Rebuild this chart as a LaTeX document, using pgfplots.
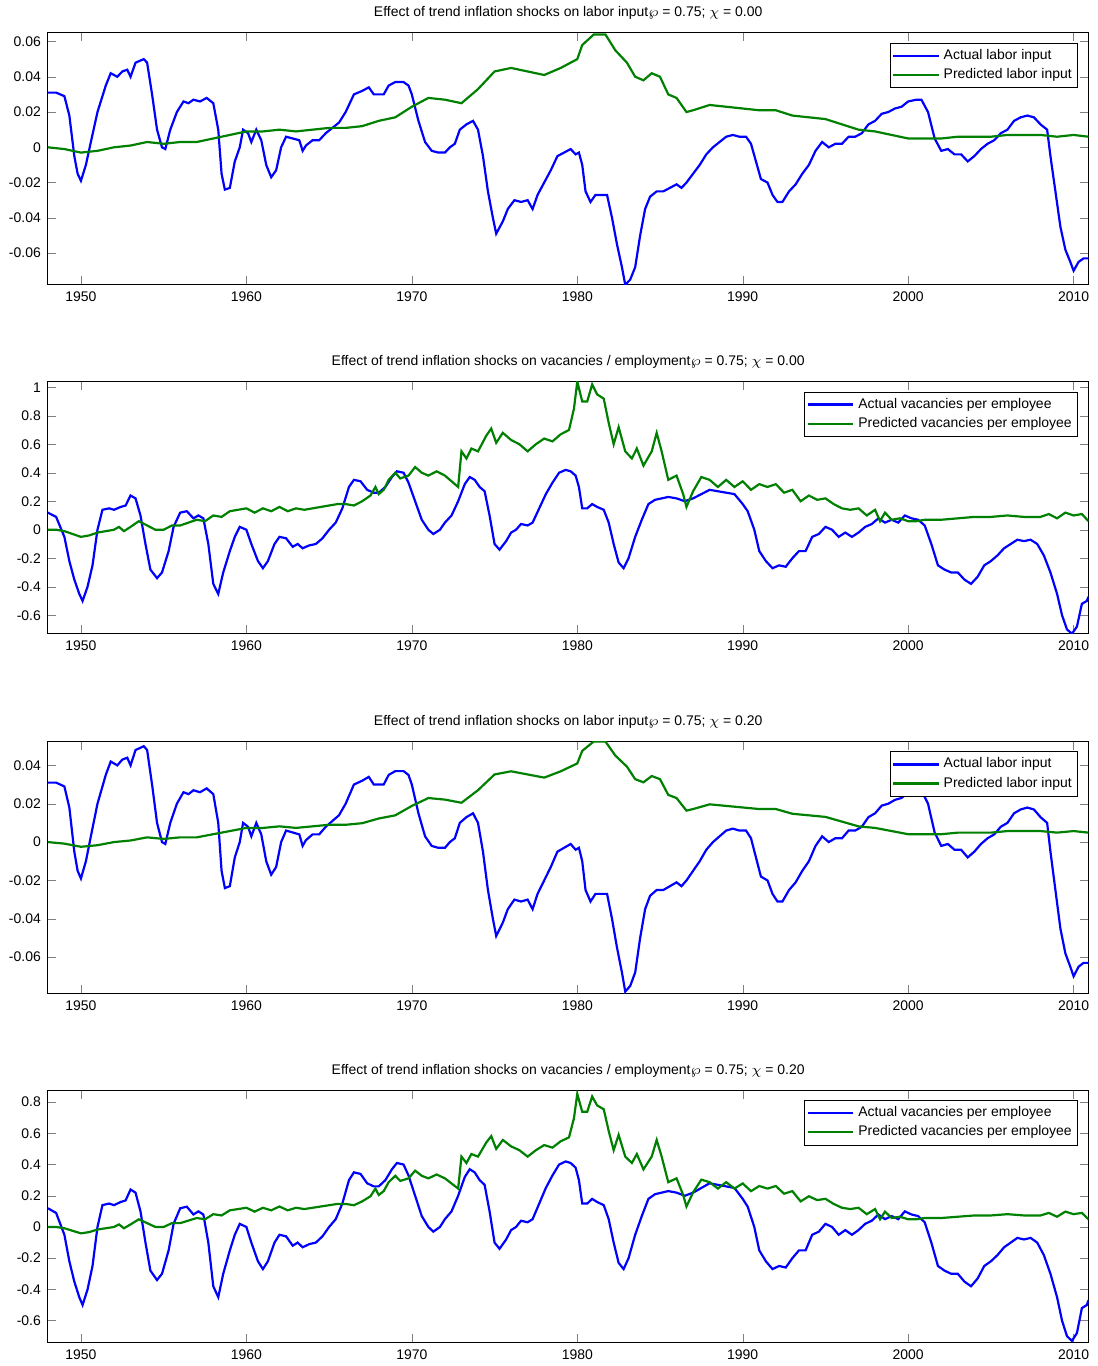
\documentclass[border=0pt]{standalone}
\usepackage{pgfplots}
\usepackage{pgfplotstable}
\usepackage{fontspec}
\setmainfont{Liberation Sans}
\pgfplotsset{compat=1.18}
\definecolor{mgreen}{rgb}{0,0.5,0}
\pgfplotstableread{
x y
1948.0 0.031
1948.5 0.031
1949.0 0.029
1949.3 0.018
1949.6 -0.005
1949.8 -0.015
1950.0 -0.019
1950.3 -0.01
1950.6 0.003
1951.0 0.02
1951.5 0.035
1951.8 0.042
1952.2 0.04
1952.5 0.043
1952.8 0.044
1953.0 0.04
1953.3 0.048
1953.8 0.05
1954.0 0.048
1954.3 0.03
1954.6 0.01
1954.9 0.0
1955.1 -0.001
1955.4 0.01
1955.8 0.02
1956.2 0.026
1956.5 0.025
1956.8 0.027
1957.2 0.026
1957.6 0.028
1958.0 0.025
1958.3 0.01
1958.5 -0.015
1958.7 -0.024
1959.0 -0.023
1959.3 -0.008
1959.6 0.0
1959.8 0.01
1960.1 0.008
1960.3 0.003
1960.6 0.01
1960.9 0.004
1961.2 -0.01
1961.5 -0.017
1961.8 -0.013
1962.1 0.0
1962.4 0.006
1962.8 0.005
1963.2 0.004
1963.4 -0.002
1963.6 0.001
1964.0 0.004
1964.4 0.004
1964.8 0.008
1965.2 0.011
1965.6 0.014
1966.0 0.02
1966.5 0.03
1967.0 0.032
1967.4 0.034
1967.7 0.03
1968.0 0.03
1968.3 0.03
1968.6 0.035
1969.0 0.037
1969.5 0.037
1969.8 0.035
1970.0 0.03
1970.4 0.015
1970.8 0.003
1971.2 -0.002
1971.6 -0.003
1972.0 -0.003
1972.3 0.0
1972.6 0.002
1972.9 0.01
1973.3 0.013
1973.7 0.015
1974.0 0.01
1974.3 -0.005
1974.6 -0.025
1974.9 -0.04
1975.1 -0.049
1975.5 -0.042
1975.8 -0.035
1976.2 -0.03
1976.6 -0.031
1977.0 -0.03
1977.3 -0.035
1977.6 -0.027
1978.0 -0.02
1978.4 -0.013
1978.8 -0.005
1979.2 -0.003
1979.6 -0.001
1979.9 -0.004
1980.1 -0.003
1980.3 -0.01
1980.5 -0.025
1980.8 -0.031
1981.1 -0.027
1981.5 -0.027
1981.8 -0.027
1982.1 -0.04
1982.4 -0.055
1982.7 -0.068
1982.9 -0.078
1983.2 -0.075
1983.5 -0.068
1983.8 -0.05
1984.1 -0.035
1984.4 -0.028
1984.8 -0.025
1985.2 -0.025
1985.6 -0.023
1986.0 -0.021
1986.3 -0.023
1986.6 -0.02
1987.0 -0.015
1987.4 -0.01
1987.8 -0.004
1988.2 0.0
1988.6 0.003
1989.0 0.006
1989.4 0.007
1989.8 0.006
1990.2 0.006
1990.5 0.002
1990.8 -0.008
1991.1 -0.018
1991.5 -0.02
1991.8 -0.027
1992.1 -0.031
1992.4 -0.031
1992.8 -0.025
1993.2 -0.021
1993.6 -0.015
1994.0 -0.01
1994.4 -0.002
1994.8 0.003
1995.2 0.0
1995.6 0.002
1996.0 0.002
1996.4 0.006
1996.8 0.006
1997.2 0.008
1997.6 0.013
1998.0 0.015
1998.4 0.019
1998.8 0.02
1999.2 0.022
1999.6 0.023
2000.0 0.026
2000.5 0.027
2000.8 0.027
2001.2 0.02
2001.6 0.005
2002.0 -0.002
2002.4 -0.001
2002.8 -0.004
2003.2 -0.004
2003.6 -0.008
2004.0 -0.005
2004.4 -0.001
2004.8 0.002
2005.2 0.004
2005.6 0.008
2006.0 0.01
2006.4 0.015
2006.8 0.017
2007.2 0.018
2007.6 0.017
2008.0 0.013
2008.4 0.01
2008.6 -0.005
2008.9 -0.025
2009.2 -0.045
2009.5 -0.058
2009.8 -0.065
2010.0 -0.07
2010.3 -0.065
2010.6 -0.063
2010.9 -0.063
}\labact
\pgfplotstableread{
x y
1948 0
1949 -0.001
1950 -0.003
1951 -0.002
1952 0.0
1953 0.001
1954 0.003
1955 0.002
1956 0.003
1957 0.003
1958 0.005
1959 0.007
1960 0.009
1961 0.009
1962 0.01
1963 0.009
1964 0.01
1965 0.011
1966 0.011
1967 0.012
1968 0.015
1969 0.017
1970 0.023
1971 0.028
1972 0.027
1973 0.025
1974 0.033
1975 0.043
1976 0.045
1977 0.043
1978 0.041
1979 0.045
1980 0.05
1980.3 0.058
1981 0.064
1981.7 0.064
1982.3 0.055
1983 0.048
1983.5 0.04
1984 0.038
1984.5 0.042
1985 0.04
1985.5 0.03
1986 0.028
1986.6 0.02
1987 0.021
1988 0.024
1989 0.023
1990 0.022
1991 0.021
1992 0.021
1993 0.018
1994 0.017
1995 0.016
1996 0.013
1997 0.01
1998 0.009
1999 0.007
2000 0.005
2001 0.005
2002 0.005
2003 0.006
2004 0.006
2005 0.006
2006 0.007
2007 0.007
2008 0.007
2009 0.006
2010 0.007
2010.9 0.006
}\labpred
\pgfplotstableread{
x y
1948 0.12
1948.5 0.09
1949 -0.05
1949.3 -0.22
1949.6 -0.35
1949.9 -0.45
1950.1 -0.5
1950.4 -0.4
1950.7 -0.25
1951.0 0.0
1951.3 0.14
1951.7 0.15
1952.0 0.14
1952.4 0.16
1952.7 0.17
1953.0 0.24
1953.3 0.22
1953.6 0.1
1953.9 -0.1
1954.2 -0.28
1954.6 -0.34
1954.9 -0.3
1955.3 -0.15
1955.6 0.02
1956.0 0.12
1956.4 0.13
1956.8 0.08
1957.1 0.1
1957.4 0.08
1957.7 -0.1
1958.0 -0.38
1958.3 -0.45
1958.6 -0.3
1959.0 -0.15
1959.3 -0.05
1959.6 0.02
1960.0 0.0
1960.3 -0.1
1960.7 -0.22
1961.0 -0.27
1961.3 -0.22
1961.7 -0.1
1962.0 -0.05
1962.4 -0.06
1962.8 -0.12
1963.1 -0.1
1963.4 -0.13
1963.8 -0.11
1964.2 -0.1
1964.6 -0.06
1965.0 0.0
1965.4 0.05
1965.8 0.15
1966.2 0.3
1966.5 0.35
1966.9 0.34
1967.3 0.28
1967.7 0.26
1968.0 0.26
1968.4 0.3
1968.8 0.37
1969.1 0.41
1969.5 0.4
1969.8 0.33
1970.2 0.2
1970.6 0.07
1971.0 0.0
1971.3 -0.03
1971.7 0.0
1972.0 0.05
1972.4 0.1
1972.8 0.2
1973.2 0.32
1973.5 0.37
1973.8 0.35
1974.1 0.3
1974.4 0.27
1974.7 0.1
1975.0 -0.1
1975.3 -0.14
1975.7 -0.08
1976.0 -0.02
1976.3 0.0
1976.6 0.04
1977.0 0.03
1977.3 0.05
1977.7 0.15
1978.1 0.25
1978.5 0.33
1978.9 0.4
1979.3 0.42
1979.6 0.41
1979.9 0.38
1980.1 0.3
1980.3 0.15
1980.6 0.15
1980.9 0.18
1981.2 0.16
1981.6 0.14
1981.9 0.05
1982.2 -0.1
1982.5 -0.23
1982.8 -0.27
1983.1 -0.2
1983.5 -0.05
1983.9 0.07
1984.3 0.18
1984.7 0.21
1985.1 0.22
1985.5 0.23
1986.0 0.22
1986.5 0.2
1987.0 0.22
1987.5 0.25
1988.0 0.28
1988.5 0.27
1989.0 0.26
1989.5 0.25
1990.0 0.18
1990.3 0.13
1990.7 0.0
1991.0 -0.15
1991.4 -0.22
1991.8 -0.27
1992.2 -0.25
1992.6 -0.26
1993.0 -0.2
1993.4 -0.15
1993.8 -0.15
1994.2 -0.05
1994.6 -0.03
1995.0 0.02
1995.4 0.0
1995.8 -0.05
1996.2 -0.02
1996.6 -0.05
1997.0 -0.02
1997.4 0.02
1997.8 0.04
1998.2 0.08
1998.6 0.05
1999.0 0.07
1999.4 0.05
1999.8 0.1
2000.2 0.08
2000.6 0.07
2001.0 0.03
2001.4 -0.1
2001.8 -0.25
2002.2 -0.28
2002.6 -0.3
2003.0 -0.3
2003.4 -0.35
2003.8 -0.38
2004.2 -0.33
2004.6 -0.25
2005.0 -0.22
2005.4 -0.18
2005.8 -0.13
2006.2 -0.1
2006.6 -0.07
2007.0 -0.08
2007.4 -0.07
2007.8 -0.1
2008.2 -0.18
2008.6 -0.3
2009.0 -0.45
2009.3 -0.6
2009.6 -0.7
2009.9 -0.73
2010.2 -0.68
2010.5 -0.52
2010.8 -0.5
2010.9 -0.47
}\vacact
\pgfplotstableread{
x y
1948 0
1948.5 0
1949 -0.01
1949.5 -0.03
1950 -0.05
1950.5 -0.04
1951 -0.02
1951.5 -0.01
1952 0.0
1952.3 0.02
1952.6 -0.01
1953 0.02
1953.5 0.06
1954 0.03
1954.5 0.0
1955 0.0
1955.5 0.03
1956 0.03
1956.5 0.05
1957 0.07
1957.5 0.06
1958 0.1
1958.5 0.09
1959 0.13
1959.5 0.14
1960 0.15
1960.5 0.12
1961 0.15
1961.5 0.13
1962 0.16
1962.5 0.13
1963 0.15
1963.5 0.14
1964 0.15
1964.5 0.16
1965 0.17
1965.5 0.18
1966 0.18
1966.5 0.17
1967 0.2
1967.5 0.24
1967.8 0.3
1968 0.25
1968.3 0.28
1968.6 0.35
1969 0.4
1969.3 0.36
1969.8 0.38
1970.2 0.44
1970.6 0.4
1971 0.38
1971.5 0.41
1972 0.38
1972.5 0.33
1972.8 0.3
1973.0 0.55
1973.3 0.5
1973.6 0.57
1974 0.55
1974.5 0.66
1974.8 0.71
1975.1 0.61
1975.5 0.68
1976 0.63
1976.5 0.6
1977 0.55
1977.5 0.6
1978 0.64
1978.5 0.62
1979 0.67
1979.5 0.7
1979.8 0.85
1980.0 1.04
1980.3 0.9
1980.6 0.9
1980.9 1.02
1981.2 0.95
1981.6 0.92
1981.9 0.75
1982.2 0.6
1982.5 0.72
1982.9 0.55
1983.3 0.5
1983.6 0.57
1984 0.45
1984.5 0.55
1984.8 0.68
1985.1 0.55
1985.5 0.35
1986 0.38
1986.4 0.25
1986.6 0.16
1987 0.27
1987.5 0.37
1988 0.35
1988.5 0.3
1989 0.35
1989.5 0.3
1990 0.34
1990.5 0.28
1991 0.32
1991.5 0.3
1992 0.32
1992.5 0.26
1993 0.28
1993.5 0.2
1994 0.24
1994.5 0.21
1995 0.22
1995.5 0.18
1996 0.15
1996.5 0.14
1997 0.15
1997.5 0.1
1998 0.14
1998.3 0.06
1998.6 0.12
1999 0.07
1999.5 0.08
2000 0.06
2000.5 0.06
2001 0.07
2002 0.07
2003 0.08
2004 0.09
2005 0.09
2006 0.1
2007 0.09
2008 0.09
2008.5 0.11
2009 0.08
2009.5 0.12
2010 0.1
2010.5 0.11
2010.9 0.06
}\vacpred
\pgfplotsset{
  mstyle/.style={
    scale only axis, width=522pt, height=126.5pt, anchor=north west,
    xmin=1948, xmax=2010.9,
    xtick={1950,1960,1970,1980,1990,2000,2010},
    x tick label style={/pgf/number format/1000 sep={}},
    tick align=inside, tick pos=both,
    tick label style={font=\fontsize{7}{8}\selectfont},
    /pgf/number format/assume math mode=true,
    scaled y ticks=false,
    y tick label style={/pgf/number format/fixed, /pgf/number format/precision=2},
    title style={font=\fontsize{7}{8}\selectfont, yshift=-3pt},
    legend style={at={(0.99,0.96)}, anchor=north east, font=\fontsize{7}{8}\selectfont,
      draw=black, inner sep=1pt, row sep=-1pt},
    legend image code/.code={\draw[##1, line width=1.1pt] (0cm,0cm) -- (0.8cm,0cm);},
    legend cell align=left,
    axis line style={line width=0.4pt},
  },
  aline/.style={color=blue, line width=1.1pt},
  pline/.style={color=mgreen, line width=1.1pt},
}
\begin{document}
\begin{tikzpicture}
\begin{axis}[mstyle, at={(24pt,-15.5pt)}, ymin=-0.078, ymax=0.065,
  ytick={-0.06,-0.04,-0.02,0,0.02,0.04,0.06},
  title={Effect of trend inflation shocks on labor input$\wp$ = 0.75; $\chi$ = 0.00}]
\addplot[aline] table {\labact};
\addplot[pline] table {\labpred};
\legend{Actual labor input, Predicted labor input}
\end{axis}
\begin{axis}[mstyle, at={(24pt,-190.5pt)}, ymin=-0.73, ymax=1.04,
  ytick={-0.6,-0.4,-0.2,0,0.2,0.4,0.6,0.8,1},
  title={Effect of trend inflation shocks on vacancies / employment$\wp$ = 0.75; $\chi$ = 0.00}]
\addplot[aline] table {\vacact};
\addplot[pline] table {\vacpred};
\legend{Actual vacancies per employee, Predicted vacancies per employee}
\end{axis}
\begin{axis}[mstyle, at={(24pt,-371pt)}, ymin=-0.079, ymax=0.0525,
  ytick={-0.06,-0.04,-0.02,0,0.02,0.04},
  title={Effect of trend inflation shocks on labor input$\wp$ = 0.75; $\chi$ = 0.20}]
\addplot[aline] table {\labact};
\addplot[pline] table [y expr=0.82*\thisrow{y}] {\labpred};
\legend{Actual labor input, Predicted labor input}
\end{axis}
\begin{axis}[mstyle, at={(24pt,-546pt)}, ymin=-0.74, ymax=0.876,
  ytick={-0.6,-0.4,-0.2,0,0.2,0.4,0.6,0.8},
  title={Effect of trend inflation shocks on vacancies / employment$\wp$ = 0.75; $\chi$ = 0.20}]
\addplot[aline] table {\vacact};
\addplot[pline] table [y expr=0.82*\thisrow{y}] {\vacpred};
\legend{Actual vacancies per employee, Predicted vacancies per employee}
\end{axis}
\path (0,0) rectangle (550.5pt,-683pt);
\end{tikzpicture}
\end{document}
